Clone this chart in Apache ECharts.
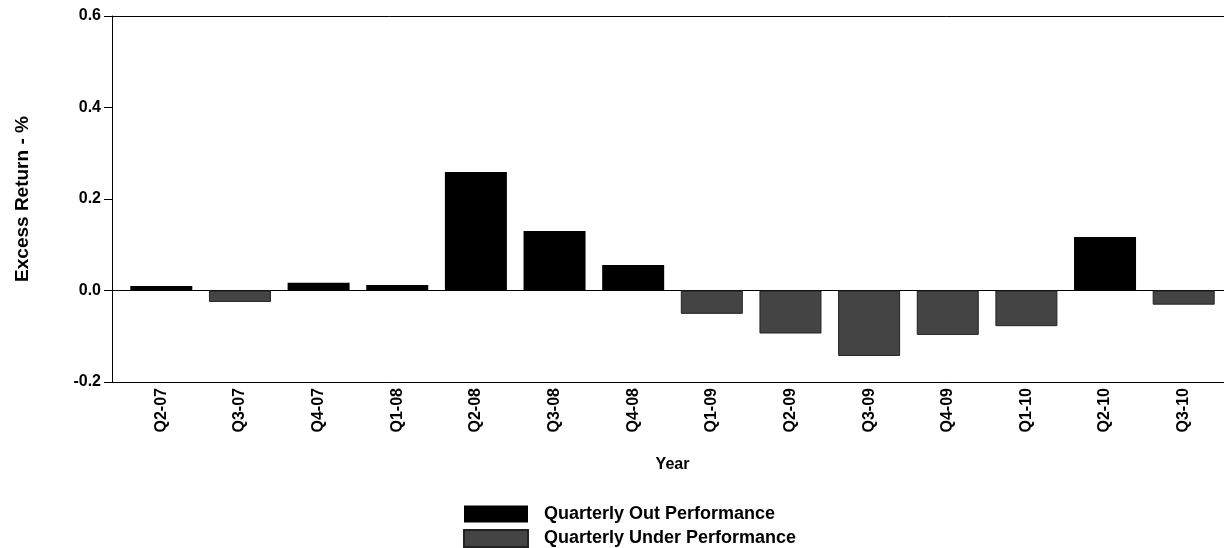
<!DOCTYPE html>
<html>
<head>
<meta charset="utf-8">
<script src="https://cdn.jsdelivr.net/npm/echarts@6/dist/echarts.min.js"></script>
<style>
  html, body { margin: 0; padding: 0; background: #fff; }
  #chart { width: 1224px; height: 548px; }
</style>
</head>
<body>
<div id="chart"></div>
<script>
const categories = ['Q2-07','Q3-07','Q4-07','Q1-08','Q2-08','Q3-08','Q4-08','Q1-09','Q2-09','Q3-09','Q4-09','Q1-10','Q2-10','Q3-10'];
const excessReturn = [0.010, -0.025, 0.017, 0.012, 0.259, 0.130, 0.056, -0.051, -0.094, -0.143, -0.097, -0.078, 0.117, -0.031];
const yTicks = { min: -0.2, max: 0.6, interval: 0.2 };
const seriesNames = ['Quarterly Out Performance', 'Quarterly Under Performance'];

const outPerf = excessReturn.map(v => v >= 0 ? v : '-');
const underPerf = excessReturn.map(v => v < 0 ? v : '-');

const FONT = "'Liberation Sans', Arial, sans-serif";
const chart = echarts.init(document.getElementById('chart'), null, { renderer: 'canvas' });

chart.setOption({
  animation: false,
  backgroundColor: '#ffffff',
  textStyle: { fontFamily: FONT, color: '#000' },
  grid: [
    { left: 112, right: 0, top: 16, bottom: 166, containLabel: false },
    { left: 122, right: 1, top: 16, bottom: 166, containLabel: false }
  ],
  legend: {
    orient: 'vertical',
    left: 463,
    top: 505,
    padding: 0,
    height: 80,
    icon: 'rect',
    itemWidth: 64,
    itemHeight: 17,
    itemGap: 6,
    data: seriesNames,
    textStyle: { fontFamily: FONT, fontSize: 18, fontWeight: 'bold', color: '#000', padding: [0, 0, 0, 11], lineHeight: 17 }
  },
  xAxis: [
    { gridIndex: 0, type: 'value', min: 0, max: 1, position: 'bottom',
      axisLine: { show: true, onZero: false, lineStyle: { color: '#000', width: 1 } },
      axisTick: { show: false }, axisLabel: { show: false }, splitLine: { show: false } },
    { gridIndex: 0, type: 'value', min: 0, max: 1, position: 'top',
      axisLine: { show: true, onZero: false, lineStyle: { color: '#000', width: 1 } },
      axisTick: { show: false }, axisLabel: { show: false }, splitLine: { show: false } },
    { gridIndex: 1, type: 'category', data: categories, position: 'bottom',
      axisLine: { show: false, onZero: false }, axisTick: { show: false },
      axisLabel: { rotate: 90, margin: 6, fontFamily: FONT, fontSize: 16, fontWeight: 'bold', color: '#000' },
      name: 'Year', nameLocation: 'middle', nameGap: 75,
      nameTextStyle: { fontFamily: FONT, fontSize: 16, fontWeight: 'bold', color: '#000', verticalAlign: 'top' }
    }
  ],
  yAxis: [
    { gridIndex: 0, type: 'value', min: yTicks.min, max: yTicks.max, interval: yTicks.interval,
      axisLine: { show: true, lineStyle: { color: '#000', width: 1 } },
      axisTick: { show: true, inside: false, length: 8, lineStyle: { color: '#000' } },
      axisLabel: { margin: 11, fontFamily: FONT, fontSize: 16, fontWeight: 'bold', color: '#000',
        formatter: v => v.toFixed(1) },
      splitLine: { show: false },
      name: 'Excess Return - %', nameLocation: 'middle', nameGap: 80, nameRotate: 90,
      nameTextStyle: { fontFamily: FONT, fontSize: 19, fontWeight: 'bold', color: '#000' }
    },
    { gridIndex: 1, type: 'value', min: yTicks.min, max: yTicks.max, interval: yTicks.interval, show: false }
  ],
  series: [
    { name: 'baseline', type: 'line', xAxisIndex: 0, yAxisIndex: 0, silent: true,
      data: [[0, 0], [1, 0]], symbol: 'none', lineStyle: { color: '#000', width: 1 }, z: 1 },
    { name: seriesNames[0], type: 'bar', xAxisIndex: 2, yAxisIndex: 1, stack: 'perf',
      data: outPerf, barWidth: 62, itemStyle: { color: '#000000' }, z: 3 },
    { name: seriesNames[1], type: 'bar', xAxisIndex: 2, yAxisIndex: 1, stack: 'perf',
      data: underPerf, barWidth: 62, itemStyle: { color: '#444444', borderColor: '#222', borderWidth: 1 }, z: 3 }
  ]
});
</script>
</body>
</html>
